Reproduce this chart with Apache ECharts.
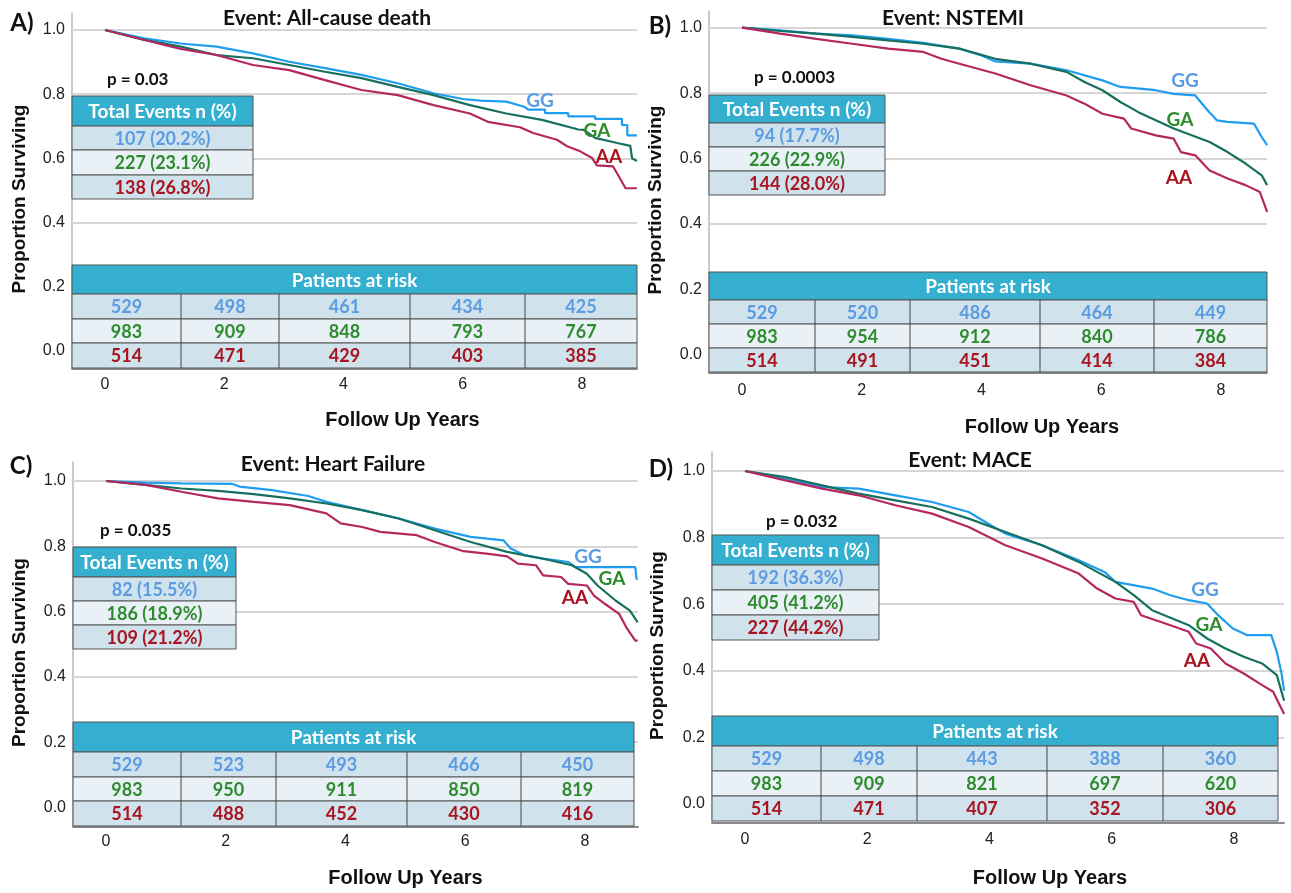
<!DOCTYPE html>
<html><head><meta charset="utf-8">
<script src="https://cdn.jsdelivr.net/npm/echarts@6/dist/echarts.min.js"></script>
<style>html,body{margin:0;padding:0;background:#fff}#c{width:1291px;height:893px}</style>
</head><body><div id="c"></div>
<script>
// ---------- DATA ----------
const groups = ['GG', 'GA', 'AA'];
const xTicks = [0, 2, 4, 6, 8];
const yTicks = [0, 0.2, 0.4, 0.6, 0.8, 1.0];
const gridVals = [0.2, 0.4, 0.6, 0.8, 1.0];
const xTitle = 'Follow Up Years';
const yTitle = 'Proportion Surviving';
const eventsHeader = 'Total Events n (%)';
const riskHeader = 'Patients at risk';

const letters = ['A)', 'B)', 'C)', 'D)'];
const titles = ['Event: All-cause death', 'Event: NSTEMI', 'Event: Heart Failure', 'Event: MACE'];
const pValues = ['p = 0.03', 'p = 0.0003', 'p = 0.035', 'p = 0.032'];

const eventsA = ['107 (20.2%)', '227 (23.1%)', '138 (26.8%)'];
const eventsB = ['94 (17.7%)', '226 (22.9%)', '144 (28.0%)'];
const eventsC = ['82 (15.5%)', '186 (18.9%)', '109 (21.2%)'];
const eventsD = ['192 (36.3%)', '405 (41.2%)', '227 (44.2%)'];

const riskA_GG = [529, 498, 461, 434, 425];
const riskA_GA = [983, 909, 848, 793, 767];
const riskA_AA = [514, 471, 429, 403, 385];
const riskB_GG = [529, 520, 486, 464, 449];
const riskB_GA = [983, 954, 912, 840, 786];
const riskB_AA = [514, 491, 451, 414, 384];
const riskC_GG = [529, 523, 493, 466, 450];
const riskC_GA = [983, 950, 911, 850, 819];
const riskC_AA = [514, 488, 452, 430, 416];
const riskD_GG = [529, 498, 443, 388, 360];
const riskD_GA = [983, 909, 821, 697, 620];
const riskD_AA = [514, 471, 407, 352, 306];

// survival curves: [years, proportion surviving]
const curveA_GG = [[0,1],[0.66,0.974],[1.27,0.958],[1.87,0.948],[2.48,0.927],[3.09,0.901],[3.69,0.881],[4.30,0.860],[4.91,0.834],[5.51,0.803],[6.0,0.785],[6.3,0.780],[6.73,0.777],[7.03,0.761],[7.1,0.752],[7.38,0.752],[7.38,0.741],[7.77,0.741],[7.77,0.731],[8.22,0.731],[8.22,0.723],[8.67,0.723],[8.67,0.704],[8.76,0.704],[8.76,0.672],[8.92,0.672]];
const curveA_GA = [[0,1],[0.66,0.969],[1.27,0.948],[1.87,0.922],[2.48,0.912],[3.09,0.891],[3.69,0.870],[4.30,0.850],[4.91,0.823],[5.51,0.797],[6.12,0.766],[6.73,0.740],[7.33,0.720],[7.94,0.690],[8.03,0.689],[8.22,0.664],[8.59,0.648],[8.81,0.639],[8.84,0.600],[8.92,0.592]];
const curveA_AA = [[0,1],[0.66,0.969],[1.27,0.941],[1.87,0.922],[2.48,0.891],[3.09,0.875],[3.69,0.844],[4.30,0.813],[4.91,0.797],[5.51,0.766],[6.12,0.740],[6.42,0.714],[6.96,0.697],[7.18,0.679],[7.58,0.658],[7.75,0.638],[7.97,0.622],[8.17,0.601],[8.25,0.578],[8.52,0.575],[8.6,0.55],[8.73,0.507],[8.92,0.507]];

const curveB_GG = [[0,1],[0.64,0.992],[1.24,0.982],[1.84,0.977],[2.44,0.966],[3.03,0.954],[3.63,0.936],[3.99,0.916],[4.23,0.897],[4.82,0.890],[5.42,0.870],[6.02,0.839],[6.32,0.819],[6.91,0.809],[7.21,0.798],[7.57,0.793],[7.75,0.753],[7.93,0.717],[8.11,0.712],[8.55,0.707],[8.68,0.666],[8.77,0.641]];
const curveB_GA = [[0,1],[0.64,0.990],[1.24,0.982],[1.84,0.972],[2.44,0.961],[3.03,0.951],[3.63,0.936],[4.23,0.905],[4.82,0.890],[5.42,0.865],[5.72,0.834],[6.02,0.809],[6.32,0.773],[6.62,0.742],[7.21,0.692],[7.81,0.651],[8.11,0.620],[8.41,0.585],[8.68,0.549],[8.77,0.519]];
const curveB_AA = [[0,1],[0.64,0.982],[1.24,0.966],[1.84,0.951],[2.44,0.936],[3.03,0.926],[3.33,0.905],[3.63,0.890],[4.23,0.860],[4.82,0.824],[5.42,0.793],[5.72,0.768],[6.02,0.737],[6.38,0.722],[6.50,0.692],[6.91,0.671],[7.21,0.661],[7.33,0.620],[7.57,0.610],[7.81,0.564],[8.11,0.539],[8.41,0.519],[8.65,0.498],[8.77,0.437]];

const curveC_GG = [[0,1],[0.66,0.995],[1.26,0.993],[2.11,0.991],[2.23,0.983],[2.77,0.972],[3.38,0.954],[3.68,0.936],[4.28,0.911],[4.89,0.885],[5.49,0.854],[6.09,0.829],[6.64,0.818],[6.76,0.793],[7.00,0.772],[7.30,0.762],[7.72,0.752],[7.84,0.736],[8.84,0.736],[8.86,0.70],[8.88,0.70]];
const curveC_GA = [[0,1],[0.66,0.988],[1.26,0.977],[1.87,0.970],[2.47,0.960],[3.07,0.947],[3.68,0.931],[4.28,0.911],[4.89,0.885],[5.49,0.849],[6.09,0.813],[6.70,0.783],[7.30,0.762],[7.78,0.742],[8.03,0.716],[8.21,0.680],[8.51,0.634],[8.75,0.603],[8.88,0.567]];
const curveC_AA = [[0,1],[0.66,0.988],[1.26,0.967],[1.87,0.947],[2.47,0.936],[3.07,0.926],[3.68,0.901],[3.92,0.870],[4.28,0.859],[4.58,0.844],[5.19,0.834],[5.49,0.813],[5.97,0.785],[6.39,0.777],[6.70,0.769],[6.88,0.747],[7.18,0.742],[7.30,0.711],[7.60,0.706],[7.72,0.685],[8.03,0.680],[8.15,0.649],[8.33,0.624],[8.57,0.593],[8.69,0.552],[8.84,0.511],[8.88,0.511]];

const curveD_GG = [[0,1],[0.66,0.977],[1.26,0.952],[1.86,0.947],[2.46,0.927],[3.06,0.907],[3.66,0.877],[4.02,0.837],[4.26,0.812],[4.86,0.777],[5.46,0.732],[5.88,0.697],[6.06,0.667],[6.66,0.647],[6.96,0.627],[7.26,0.612],[7.56,0.602],[7.74,0.567],[7.98,0.527],[8.22,0.507],[8.61,0.507],[8.70,0.457],[8.78,0.39],[8.82,0.34]];
const curveD_GA = [[0,1],[0.66,0.982],[1.26,0.957],[1.86,0.932],[2.46,0.912],[3.06,0.892],[3.66,0.857],[4.26,0.817],[4.86,0.777],[5.46,0.727],[6.06,0.667],[6.36,0.627],[6.66,0.582],[7.26,0.537],[7.56,0.497],[7.86,0.467],[8.16,0.442],[8.46,0.422],[8.70,0.387],[8.82,0.31]];
const curveD_AA = [[0,1],[0.66,0.972],[1.26,0.947],[1.86,0.927],[2.46,0.897],[3.06,0.872],[3.66,0.832],[4.26,0.777],[4.86,0.737],[5.46,0.692],[5.76,0.647],[6.06,0.617],[6.36,0.607],[6.48,0.567],[6.96,0.537],[7.26,0.517],[7.38,0.482],[7.62,0.467],[7.86,0.422],[8.16,0.392],[8.46,0.357],[8.64,0.337],[8.82,0.27]];

// ---------- STYLE / LAYOUT ----------
const curveColors = ['#1F9DEE', '#17705F', '#B5285F'];
const textColors = ['#5B9BE2', '#2E8B2E', '#A8141F'];
const headerFill = '#35AFCF';
const rowFills = ['#D0E2EC', '#E9F1F6', '#D0E2EC'];
const borderColor = '#555';
const tblFont = 'Lato, "Open Sans", sans-serif';
const axFont = '"Liberation Sans", Arial, sans-serif';

const panelData = [
  {events: eventsA, risk: [riskA_GG, riskA_GA, riskA_AA], curves: [curveA_GG, curveA_GA, curveA_AA]},
  {events: eventsB, risk: [riskB_GG, riskB_GA, riskB_AA], curves: [curveB_GG, curveB_GA, curveB_AA]},
  {events: eventsC, risk: [riskC_GG, riskC_GA, riskC_AA], curves: [curveC_GG, curveC_GA, curveC_AA]},
  {events: eventsD, risk: [riskD_GG, riskD_GA, riskD_AA], curves: [curveD_GG, curveD_GA, curveD_AA]}
];

const layouts = [
  {left:72, right:637, top:13, bottom:369, x0:105, x8:582, y1:30, y0:351,
   letter:[22,23], title:[327,18], p:[107,80], yGap:43, xGap:41, xShift:48, xMargin:8,
   ev:{x1:72, x2:253, ys:[96,126,150,175,199]},
   rk:{x1:72, x2:637, ys:[265,294,319,343,368], cols:[181,279,410,525]},
   lab:[[540,101],[597,131],[609,157]]},
  {left:709, right:1267, top:11, bottom:373, x0:742, x8:1221, y1:27.7, y0:355,
   letter:[660,26], title:[953,18], p:[754,78], yGap:44, xGap:44, xShift:54, xMargin:10,
   ev:{x1:709, x2:885, ys:[95,123,147,171,195]},
   rk:{x1:709, x2:1267, ys:[272,300,324,348,372], cols:[815,910,1040,1154]},
   lab:[[1185,81],[1180,120],[1179,178]]},
  {left:73, right:638, top:462, bottom:827, x0:106, x8:585, y1:481, y0:807.5,
   letter:[21,466], title:[333,464], p:[100,531], yGap:44, xGap:41, xShift:50, xMargin:7,
   ev:{x1:73, x2:236, ys:[547,577,601,625,649]},
   rk:{x1:73, x2:634, ys:[722,752,777,801,826], cols:[181,276,407,521]},
   lab:[[588,557],[612,579],[575,598]]},
  {left:712, right:1284, top:452, bottom:823, x0:745, x8:1234, y1:471, y0:804,
   letter:[661,469], title:[970,460], p:[766,522], yGap:45, xGap:45, xShift:52, xMargin:9,
   ev:{x1:712, x2:879, ys:[535,565,590,615,640]},
   rk:{x1:712, x2:1278, ys:[716,746,771,796,821], cols:[821,917,1047,1163]},
   lab:[[1205,590],[1209,625],[1197,661]]}
];

// ---------- BUILD ----------
const grid = [], xAxis = [], yAxis = [], series = [], graphic = [];
const Z = 100;

function txt(x, y, text, font, fill, align) {
  graphic.push({type:'text', z:Z+2, silent:true,
    style:{x, y, text, font, fill, align: align || 'center', verticalAlign:'middle',
           textAlign: align || 'center', textVerticalAlign:'middle'}});
}
function rect(x1, y1, x2, y2, fill) {
  graphic.push({type:'rect', z:Z, silent:true, shape:{x:x1, y:y1, width:x2-x1, height:y2-y1},
    style:{fill, stroke:borderColor, lineWidth:1}});
}
function vline(x, y1, y2) {
  graphic.push({type:'line', z:Z+1, silent:true, shape:{x1:x, y1, x2:x, y2},
    style:{stroke:'#444', lineWidth:1}});
}

layouts.forEach((L, i) => {
  const D = panelData[i];
  const ppx = (L.x8 - L.x0) / 8, ppy = (L.y0 - L.y1);
  grid.push({left:L.left, top:L.top, width:L.right-L.left, height:L.bottom-L.top,
             containLabel:false, outerBoundsMode:'none'});
  xAxis.push({gridIndex:i, type:'value',
    min:(L.left - L.x0)/ppx, max:(L.right - L.x0)/ppx,
    axisLine:{show:true, onZero:false, lineStyle:{color:'#8a8a8a', width:2}},
    axisTick:{show:false}, splitLine:{show:false},
    axisLabel:{customValues:xTicks, formatter:v => v.toFixed(0), fontSize:16, color:'#222',
               margin:L.xMargin, fontFamily:axFont},
    name:xTitle, nameLocation:'middle', nameGap:L.xGap,
    nameTextStyle:{fontSize:20, fontWeight:'bold', color:'#111', fontFamily:axFont,
                   padding:[0,0,0,L.xShift*2]}});
  yAxis.push({gridIndex:i, type:'value',
    min:-(L.bottom - L.y0)/ppy, max:1 + (L.y1 - L.top)/ppy,
    axisLine:{show:true, onZero:false, lineStyle:{color:'#b8b8b8', width:1.5}},
    axisTick:{show:false}, splitLine:{show:false},
    axisLabel:{customValues:yTicks, formatter:v => v.toFixed(1), fontSize:16, color:'#222',
               margin:7, fontFamily:axFont},
    name:yTitle, nameLocation:'middle', nameGap:L.yGap, nameRotate:90,
    nameTextStyle:{fontSize:19, fontWeight:'bold', color:'#111', fontFamily:axFont,
                   padding:[0,16,0,0]}});
  groups.forEach((g, k) => {
    const s = {type:'line', name:g, xAxisIndex:i, yAxisIndex:i, data:D.curves[k],
      showSymbol:false, symbol:'none', z:3, silent:true,
      lineStyle:{color:curveColors[k], width:2.2}, itemStyle:{color:curveColors[k]}};
    if (k === 0) {
      s.markLine = {silent:true, symbol:['none','none'], label:{show:false}, z:1,
        lineStyle:{color:'#d6d6d6', width:2, type:'solid'},
        emphasis:{disabled:true},
        data:gridVals.map(v => ({yAxis:v}))};
    }
    series.push(s);
  });

  // texts
  txt(L.letter[0], L.letter[1], letters[i], 'bold 24px ' + tblFont, '#111');
  txt(L.title[0], L.title[1], titles[i], 'bold 21px ' + tblFont, '#111');
  txt(L.p[0], L.p[1], pValues[i], 'bold 17px ' + tblFont, '#111', 'left');
  groups.forEach((g, k) => txt(L.lab[k][0], L.lab[k][1], g, 'bold 19px ' + tblFont, textColors[k]));

  // events table
  const E = L.ev;
  rect(E.x1, E.ys[0], E.x2, E.ys[1], headerFill);
  txt((E.x1+E.x2)/2, (E.ys[0]+E.ys[1])/2 + 1, eventsHeader, 'bold 19px ' + tblFont, '#fff');
  for (let k = 0; k < 3; k++) {
    rect(E.x1, E.ys[k+1], E.x2, E.ys[k+2], rowFills[k]);
    txt((E.x1+E.x2)/2, (E.ys[k+1]+E.ys[k+2])/2 + 1, D.events[k], 'bold 18px ' + tblFont, textColors[k]);
  }

  // risk table
  const R = L.rk;
  rect(R.x1, R.ys[0], R.x2, R.ys[1], headerFill);
  txt((R.x1+R.x2)/2, (R.ys[0]+R.ys[1])/2 + 1, riskHeader, 'bold 19px ' + tblFont, '#fff');
  const edges = [R.x1].concat(R.cols, [R.x2]);
  for (let k = 0; k < 3; k++) {
    rect(R.x1, R.ys[k+1], R.x2, R.ys[k+2], rowFills[k]);
    for (let c = 0; c < 5; c++) {
      txt((edges[c]+edges[c+1])/2, (R.ys[k+1]+R.ys[k+2])/2 + 1, String(D.risk[k][c]),
          'bold 18px ' + tblFont, textColors[k]);
    }
  }
  R.cols.forEach(x => vline(x, R.ys[1], R.ys[4]));
});

const chart = echarts.init(document.getElementById('c'), null, {renderer:'canvas'});
chart.setOption({
  backgroundColor:'#fff', animation:false,
  grid, xAxis, yAxis, series, graphic
});
</script>
</body></html>
